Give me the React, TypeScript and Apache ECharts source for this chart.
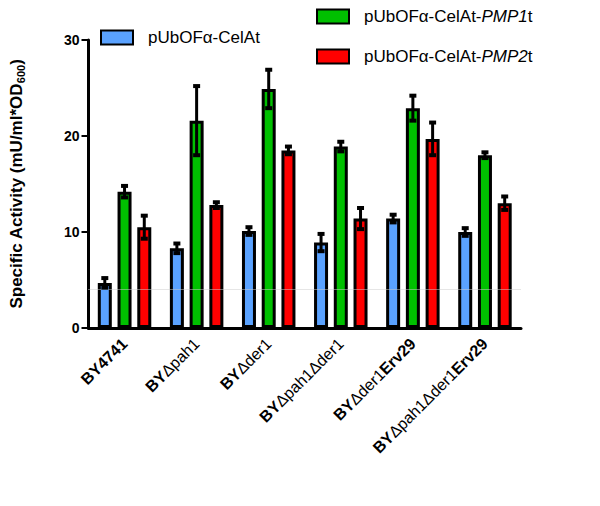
import { useEffect, useRef } from "react";
import * as echarts from "echarts";

// Strains on the category axis
const categories = [
  "BY4741",
  "BYΔpah1",
  "BYΔder1",
  "BYΔpah1Δder1",
  "BYΔder1Erv29",
  "BYΔpah1Δder1Erv29",
];

const seriesNames = ["pUbOFα-CelAt", "pUbOFα-CelAt-PMP1t", "pUbOFα-CelAt-PMP2t"];

// Mean specific activity and standard deviation per construct
const celAt = [4.7, 8.3, 10.1, 8.9, 11.4, 10.0];
const celAtSd = [0.5, 0.5, 0.4, 0.9, 0.4, 0.4];
const pmp1 = [14.2, 21.6, 24.9, 18.9, 22.9, 18.0];
const pmp1Sd = [0.6, 3.6, 2.0, 0.5, 1.3, 0.3];
const pmp2 = [10.5, 12.8, 18.5, 11.4, 19.7, 13.0];
const pmp2Sd = [1.2, 0.3, 0.4, 1.1, 1.7, 0.7];

// Background reference level (dotted line)
const backgroundLevel = [4];

const yMin = 0;
const yMax = 30;
const yStep = 10;

const COLORS = ["#5aa2ff", "#00c000", "#ff0000"];
const FONT = "'Liberation Sans', Arial, sans-serif";
const BAR_W = 14;
const BAR_GAP = 0.41;

function errorBarRenderer(slot: number) {
  return (_params: any, api: any) => {
    const x = api.value(0);
    const mean = api.value(1);
    const sd = api.value(2);
    const hi = api.coord([x, mean + sd]);
    const lo = api.coord([x, mean - sd]);
    const cx = hi[0] + slot * BAR_W * (1 + BAR_GAP);
    const capW = 7;
    const capH = 4;
    return {
      type: "group",
      children: [
        {
          type: "line",
          shape: { x1: cx, y1: hi[1], x2: cx, y2: lo[1] },
          style: { stroke: "#000", lineWidth: 3 },
        },
        {
          type: "rect",
          shape: { x: cx - capW / 2, y: hi[1] - capH / 2, width: capW, height: capH },
          style: { fill: "#000" },
        },
        {
          type: "rect",
          shape: { x: cx - capW / 2, y: lo[1] - capH / 2, width: capW, height: capH },
          style: { fill: "#000" },
        },
      ],
    };
  };
}

// Split a strain name into bold and plain (deletion) parts
function strainLabel(name: string): string {
  return name
    .split(/(Δ[a-z]+1)/)
    .filter((s) => s.length > 0)
    .map((s) => (s.startsWith("Δ") ? `{i|${s}}` : `{b|${s}}`))
    .join("");
}

export default function App() {
  const ref = useRef<HTMLDivElement>(null);

  useEffect(() => {
    if (!ref.current) return;
    const chart = echarts.init(ref.current, undefined, { renderer: "svg" });

    const means = [celAt, pmp1, pmp2];
    const sds = [celAtSd, pmp1Sd, pmp2Sd];

    const barSeries = seriesNames.map((name, k) => ({
      name,
      type: "bar",
      barWidth: BAR_W,
      barGap: `${BAR_GAP * 100}%`,
      z: 2,
      itemStyle: { color: COLORS[k], borderColor: "#000", borderWidth: 3 },
      data: means[k],
    }));

    const errorSeries = means.map((m, k) => ({
      type: "custom",
      z: 5,
      silent: true,
      renderItem: errorBarRenderer(k - 1),
      encode: { x: 0, y: 1 },
      data: m.map((v, i) => [i, v, sds[k][i]]),
    }));

    const legendCommon = {
      padding: 0,
      icon: "rect",
      itemWidth: 32,
      itemHeight: 14,
      selectedMode: false,
      textStyle: {
        fontFamily: FONT,
        fontSize: 17,
        color: "#000",
        padding: [0, 0, 0, 10],
        rich: {
          i: { fontFamily: FONT, fontSize: 17, fontStyle: "italic", color: "#000" },
        },
      },
      formatter: (n: string) => n.replace(/(PMP\d)/, "{i|$1}"),
    };

    chart.setOption({
      animation: false,
      backgroundColor: "#fff",
      grid: { left: 88, right: 79, top: 40, bottom: 178, containLabel: false },
      legend: [
        { ...legendCommon, data: [seriesNames[0]], left: 100, top: 29 },
        { ...legendCommon, data: [seriesNames[1]], left: 316, top: 8 },
        { ...legendCommon, data: [seriesNames[2]], left: 316, top: 48 },
      ],
      xAxis: {
        type: "category",
        data: categories,
        axisLine: { lineStyle: { color: "#000", width: 3 } },
        axisTick: { alignWithLabel: true, length: 6, lineStyle: { color: "#000", width: 2 } },
        axisLabel: {
          interval: 0,
          rotate: 45,
          margin: 13,
          formatter: (v: string) => strainLabel(v),
          rich: {
            b: { fontFamily: FONT, fontSize: 16, fontWeight: "bold", color: "#000" },
            i: { fontFamily: FONT, fontSize: 16, fontWeight: "normal", color: "#000" },
          },
        },
      },
      yAxis: {
        type: "value",
        min: yMin,
        max: yMax,
        interval: yStep,
        name: "{t|Specific Activity (mU/ml*OD}{s|600}{t|)}",
        nameLocation: "middle",
        nameGap: 62,
        nameTextStyle: {
          rich: {
            t: { fontFamily: FONT, fontSize: 17, fontWeight: "bold", color: "#000", lineHeight: 20 },
            s: {
              fontFamily: FONT,
              fontSize: 11,
              fontWeight: "bold",
              color: "#000",
              verticalAlign: "bottom",
              lineHeight: 11,
            },
          },
        },
        axisLine: { show: true, lineStyle: { color: "#000", width: 3 } },
        axisTick: { show: true, length: 7, lineStyle: { color: "#000", width: 2 } },
        axisLabel: { fontFamily: FONT, fontSize: 14, fontWeight: "bold", color: "#000", margin: 9 },
        splitLine: { show: false },
      },
      series: [
        {
          type: "line",
          data: [],
          z: 1,
          silent: true,
          markLine: {
            silent: true,
            symbol: "none",
            label: { show: false },
            lineStyle: { color: "#cccccc", type: "dotted", width: 1 },
            data: backgroundLevel.map((v) => ({ yAxis: v })),
          },
        },
        ...barSeries,
        ...errorSeries,
      ],
    });

    return () => chart.dispose();
  }, []);

  return (
    <div
      ref={ref}
      style={{ position: "absolute", left: 0, top: 0, width: 600, height: 506 }}
    />
  );
}
